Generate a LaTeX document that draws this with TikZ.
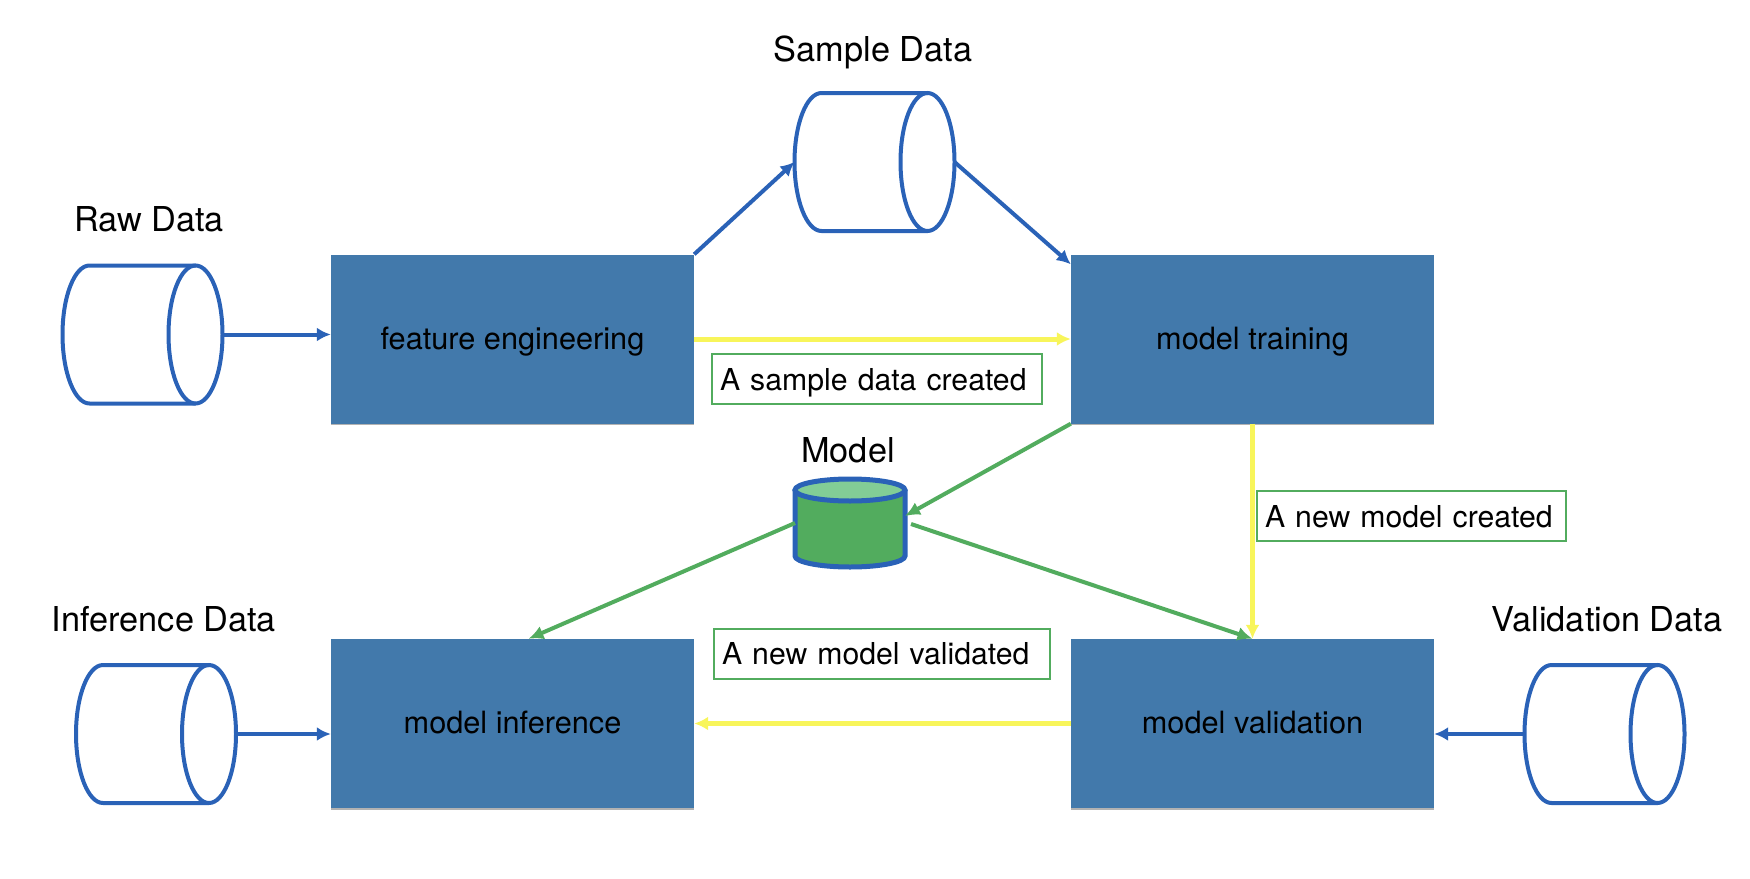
\documentclass[tikz,border=0pt]{standalone}
\usepackage{fontspec}
\setmainfont{TeX Gyre Heros}
\usetikzlibrary{arrows.meta,calc,shadows}
\definecolor{boxblue}{HTML}{4279AB}
\definecolor{lineblue}{HTML}{2A62B7}
\definecolor{linegreen}{HTML}{52AC5E}
\definecolor{lineyellow}{HTML}{F8F55A}
\definecolor{lightgreen}{HTML}{82CD96}
\tikzset{
  x=1pt,y=-1pt,
  stagebox/.style={rectangle,fill=boxblue,draw=none,minimum width=363pt,minimum height=169pt,inner sep=0pt,
    text depth=2pt,font=\fontsize{30.7}{36}\selectfont,text=black,general shadow={fill=black!30,shadow yshift=-1.5pt}},
  datacyl/.style={rectangle,draw=none,minimum width=160pt,minimum height=138pt,inner sep=0pt,outer sep=0pt},
  cylline/.style={draw=lineblue,line width=4pt},
  modelcyl/.style={rectangle,draw=none,minimum width=110pt,minimum height=88pt,inner sep=0pt,outer sep=0pt},
  datalabel/.style={font=\fontsize{34.3}{40}\selectfont,inner sep=0pt},
  notebox/.style={rectangle,draw=linegreen,line width=2pt,fill=white,inner xsep=8pt,inner ysep=0pt,
    minimum height=50pt,align=left,text depth=0pt,font=\fontsize{30.2}{36}\selectfont},
  bluearrow/.style={draw=lineblue,line width=4pt,-{Latex[length=14pt,width=14pt]}},
  greenarrow/.style={draw=linegreen,line width=4pt,-{Latex[length=15pt,width=14pt]}},
  yellowarrow/.style={draw=lineyellow,line width=5pt,-{Latex[length=14pt,width=14pt]}},
}
\newcommand{\drawdatacyl}[1]{%
  \draw[cylline] ($(#1.north east)+(-27,0)$) -- ($(#1.north west)+(27,0)$)
    arc[start angle=90,end angle=270,x radius=27pt,y radius=69pt]
    -- ($(#1.south east)+(-27,0)$);
  \draw[cylline] ($(#1.east)+(-27,0)$) circle[x radius=27pt,y radius=69pt];
}
\begin{document}
\begin{tikzpicture}
\useasboundingbox (0,0) rectangle (1750,878);
% stages
\node[stagebox] (feat)  at (512.5,339) {feature engineering};
\node[stagebox] (train) at (1252.5,339) {model training};
\node[stagebox] (infer) at (512.5,723.5) {model inference};
\node[stagebox] (valid) at (1252.5,723.5) {model validation};
% data stores
\node[datacyl] (raw)    at (142.5,334.5) {};
\node[datacyl] (sample) at (874.5,162) {};
\node[datacyl] (idata)  at (156,734) {};
\node[datacyl] (vdata)  at (1604.5,734) {};
\node[modelcyl] (model) at (850,523) {};
\drawdatacyl{raw}
\drawdatacyl{sample}
\drawdatacyl{idata}
\drawdatacyl{vdata}
% model cylinder
\fill[linegreen] ($(model.north west)+(0,11)$) -- ($(model.south west)+(0,-11)$)
  arc[start angle=180,end angle=360,x radius=55pt,y radius=11pt]
  -- ($(model.north east)+(0,11)$) -- cycle;
\draw[cylline,line width=5pt] ($(model.north west)+(0,11)$) -- ($(model.south west)+(0,-11)$)
  arc[start angle=180,end angle=360,x radius=55pt,y radius=11pt]
  -- ($(model.north east)+(0,11)$);
\draw[cylline,line width=5pt,fill=lightgreen] ($(model.north)+(0,11)$) circle[x radius=55pt,y radius=11pt];
% labels
\node[datalabel] (rawl) at (149,219) {Raw Data};
\node[datalabel] (samplel) at (873,52) {Sample Data};
\node[datalabel] (modell) at (848,450) {Model};
\node[datalabel] (idatal) at (164,619) {Inference Data};
\node[datalabel] (vdatal) at (1607,619) {Validation Data};
% notes
\node[notebox,text width=314pt] (n1) at (877,379) {A sample data created};
\node[notebox,text width=293pt] (n2) at (1411.5,516) {A new model created};
\node[notebox,text width=320pt] (n3) at (882,653.5) {A new model validated};
% free ends
\coordinate (trainin) at ($(train.north west)+(0,10)$);
\coordinate (modelin) at ($(model.east)+(0,-7)$);
\coordinate (modelout) at ($(model.east)+(6,1)$);
\coordinate (inferin) at ($(infer.north)+(16,0)$);
% connectors
\draw[bluearrow] (raw.east) -- (feat.west |- raw.east);
\draw[bluearrow] (feat.north east) -- (sample.west);
\draw[bluearrow] (sample.east) -- (trainin);
\draw[bluearrow] (idata.east) -- (infer.west |- idata.east);
\draw[bluearrow] (vdata.west) -- (valid.east |- vdata.west);
\draw[yellowarrow] (feat.east) -- (train.west);
\draw[yellowarrow] (train.south) -- (valid.north);
\draw[yellowarrow] (valid.west) -- (infer.east);
\draw[greenarrow] (train.south west) -- (modelin);
\draw[greenarrow] (model.west) -- (inferin);
\draw[greenarrow] (modelout) -- (valid.north);
\end{tikzpicture}
\end{document}
